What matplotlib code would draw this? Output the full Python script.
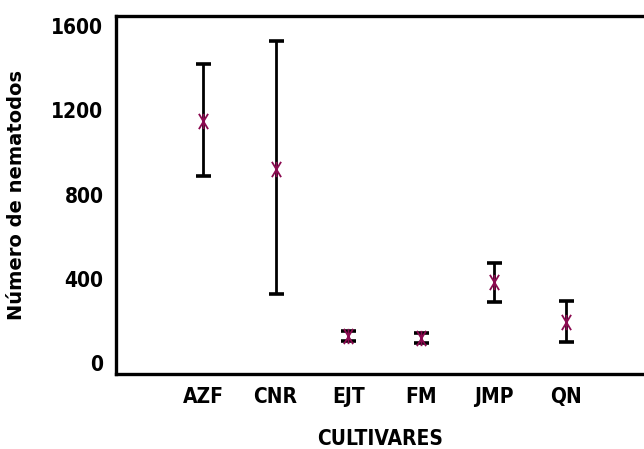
import matplotlib
matplotlib.use("Agg")
import matplotlib.pyplot as plt
from matplotlib.path import Path
import numpy as np

cultivares = ["AZF", "CNR", "EJT", "FM", "JMP", "QN"]
medias = [1150, 920, 128, 119, 385, 195]
superior = [1420, 1530, 152, 142, 475, 294]
inferior = [890, 328, 104, 95, 290, 100]
yticks = [0, 400, 800, 1200, 1600]

narrow = ["Liberation Sans Narrow", "DejaVu Sans"]

asterisco = Path(
    [(0, -1), (0, 1), (-0.6, -1), (0.6, 1), (-0.6, 1), (0.6, -1)],
    [Path.MOVETO, Path.LINETO, Path.MOVETO, Path.LINETO, Path.MOVETO, Path.LINETO],
)

fig = plt.figure(figsize=(6.44, 4.49), dpi=100)
ax = fig.add_axes([0.180, 0.167, 0.820, 0.797])

x = np.arange(len(cultivares))
med = np.array(medias)
err = np.vstack([med - np.array(inferior), np.array(superior) - med])
ax.errorbar(x, med, yerr=err, fmt="none", ecolor="black", elinewidth=2.0,
            capsize=5.4, capthick=2.6, zorder=2)
ax.plot(x, med, linestyle="none", marker=asterisco, markersize=11,
        markerfacecolor="none", markeredgecolor="#8B0A50", markeredgewidth=1.3, zorder=3)

ax.set_xlim(-1.198, 6.07)
ax.set_ylim(-52, 1647)
ax.set_xticks(x)
ax.set_xticklabels(cultivares, fontfamily=narrow, fontweight="bold",
                   fontstretch="condensed", fontsize=15)
ax.set_yticks(yticks)
ax.set_yticklabels([str(v) for v in yticks], fontfamily=narrow, fontweight="bold",
                   fontstretch="condensed", fontsize=15)
ax.tick_params(axis="both", length=0)
ax.tick_params(axis="x", pad=9)
ax.tick_params(axis="y", pad=9)

for s in ["left", "bottom", "top"]:
    ax.spines[s].set_linewidth(2.4)
ax.spines["right"].set_visible(False)

ax.set_xlabel("CULTIVARES", fontfamily=narrow, fontweight="bold",
              fontstretch="condensed", fontsize=15, labelpad=16)
ax.set_ylabel("Número de nematodos", fontfamily="DejaVu Sans", fontweight="bold",
              fontsize=14, labelpad=18)

fig.savefig("out.png", dpi=100)
